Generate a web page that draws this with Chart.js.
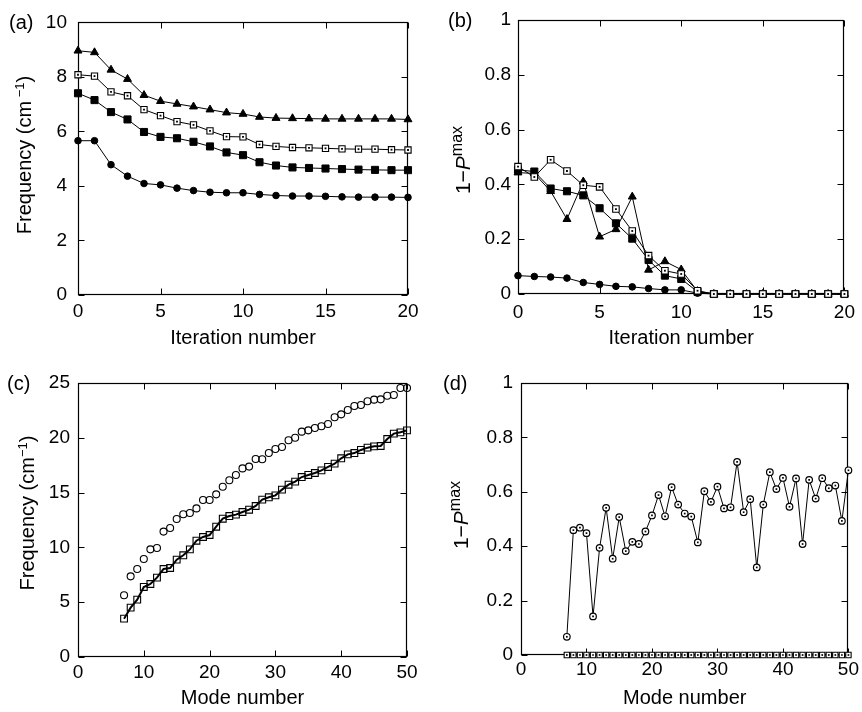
<!DOCTYPE html>
<html><head><meta charset="utf-8">
<script src="https://cdn.jsdelivr.net/npm/chart.js@4"></script>
<style>
body{margin:0;background:#fff;width:862px;height:712px;position:relative;overflow:hidden;font-family:"Liberation Sans",Arial,Helvetica,sans-serif;color:#000;}
canvas{position:absolute;}
.pl{position:absolute;font-size:20px;line-height:1;white-space:nowrap;}
.yt{position:absolute;font-size:20px;line-height:1;white-space:nowrap;transform:translate(-50%,-50%) rotate(-90deg);}
.yt sup{font-size:13px;vertical-align:0.55em;line-height:0;}
.yt.p{font-size:21px;}
.yt.p sup{font-size:16px;vertical-align:0.5em;}
</style></head><body>
<canvas id="ca" width="431" height="350" style="left:0;top:0;width:431px;height:350px"></canvas>
<canvas id="cb" width="431" height="350" style="left:431px;top:0;width:431px;height:350px"></canvas>
<canvas id="cc" width="431" height="362" style="left:0;top:350px;width:431px;height:362px"></canvas>
<canvas id="cd" width="431" height="362" style="left:431px;top:350px;width:431px;height:362px"></canvas>
<div class="pl" style="left:9px;top:12px">(a)</div>
<div class="pl" style="left:448px;top:10px">(b)</div>
<div class="pl" style="left:7px;top:373px">(c)</div>
<div class="pl" style="left:443px;top:373px">(d)</div>
<div class="yt" style="left:24px;top:155px">Frequency (cm<sup> −1</sup>)</div>
<div class="yt p" style="left:462px;top:160px">1−<i>P</i><sup>max</sup></div>
<div class="yt" style="left:27px;top:513px">Frequency (cm<sup>−1</sup>)</div>
<div class="yt p" style="left:460px;top:515px">1−<i>P</i><sup>max</sup></div>
<script>
// ---------- data ----------
const iterations = [0,1,2,3,4,5,6,7,8,9,10,11,12,13,14,15,16,17,18,19,20];
const aTriangle = [8.96,8.90,8.26,7.92,7.33,7.11,7.01,6.91,6.80,6.69,6.64,6.53,6.49,6.48,6.47,6.46,6.46,6.46,6.46,6.46,6.44];
const aOpenSquare = [8.08,8.03,7.45,7.31,6.80,6.58,6.36,6.24,6.02,5.81,5.80,5.52,5.45,5.41,5.40,5.38,5.36,5.35,5.35,5.33,5.32];
const aFilledSquare = [7.40,7.15,6.71,6.44,5.98,5.80,5.75,5.62,5.45,5.23,5.13,4.87,4.75,4.68,4.66,4.64,4.62,4.60,4.59,4.58,4.58];
const aCircle = [5.66,5.66,4.78,4.36,4.09,4.04,3.92,3.83,3.77,3.75,3.75,3.69,3.65,3.63,3.63,3.62,3.60,3.59,3.59,3.59,3.58];

const bTriangle = [0.443,0.440,0.375,0.273,0.410,0.209,0.236,0.355,0.088,0.119,0.089,0.010,0,0,0,0,0,0,0,0,0];
const bOpenSquare = [0.465,0.427,0.490,0.449,0.397,0.391,0.310,0.230,0.140,0.085,0.073,0.012,0,0,0,0,0,0,0,0,0];
const bFilledSquare = [0.453,0.447,0.385,0.375,0.360,0.313,0.258,0.202,0.124,0.067,0.055,0.008,0,0,0,0,0,0,0,0,0];
const bCircle = [0.067,0.064,0.062,0.058,0.042,0.035,0.028,0.026,0.020,0.015,0.015,0.003,0,0,0,0,0,0,0,0,0];

const modes = [7,8,9,10,11,12,13,14,15,16,17,18,19,20,21,22,23,24,25,26,27,28,29,30,31,32,33,34,35,36,37,38,39,40,41,42,43,44,45,46,47,48,49,50];
const cCircle = [5.63,7.36,8.03,8.94,9.82,9.95,11.44,11.77,12.59,13.02,13.14,13.56,14.32,14.32,14.84,15.54,16.12,16.61,17.21,17.37,18.07,18.04,18.61,18.98,19.16,19.77,20.01,20.56,20.68,20.89,21.05,21.26,21.87,22.14,22.54,22.90,22.99,23.33,23.48,23.51,23.84,23.91,24.54,24.54];
const cSquare = [3.50,4.50,5.23,6.39,6.66,7.24,8.03,8.12,8.88,9.28,9.82,10.61,10.95,11.13,11.89,12.62,12.86,12.99,13.23,13.44,13.78,14.36,14.57,14.75,15.27,15.72,16.00,16.42,16.61,16.79,17.03,17.34,17.64,18.13,18.49,18.61,18.89,19.10,19.22,19.25,19.89,20.38,20.50,20.68];
const dCircle = [0.067,0.459,0.468,0.448,0.142,0.394,0.541,0.354,0.507,0.382,0.416,0.408,0.454,0.513,0.588,0.510,0.617,0.553,0.520,0.509,0.414,0.602,0.563,0.619,0.539,0.543,0.710,0.525,0.573,0.322,0.553,0.672,0.610,0.651,0.545,0.649,0.408,0.644,0.575,0.650,0.613,0.623,0.493,0.679];
const dSquare = [0,0,0,0,0,0,0,0,0,0,0,0,0,0,0,0,0,0,0,0,0,0,0,0,0,0,0,0,0,0,0,0,0,0,0,0,0,0,0,0,0,0,0,0];

const xTicksIter = [0,5,10,15,20];
const xTicksMode = [0,10,20,30,40,50];
const yTicksFreqA = [0,2,4,6,8,10];
const yTicksFreqC = [0,5,10,15,20,25];
const yTicksP = [0,0.2,0.4,0.6,0.8,1];

// ---------- helpers ----------
const FONT = '"Liberation Sans", Arial, Helvetica, sans-serif';
Chart.defaults.font.family = FONT;
Chart.defaults.color = '#000';

function pts(xs, ys){ return xs.map((x,i)=>({x:x, y:ys[i]})); }
function fmt(v){ return String(Number(Number(v).toFixed(2))); }

const framePlugin = {
  id:'frame',
  beforeDatasetsDraw(chart){
    const {ctx, chartArea:a, scales} = chart;
    const x = scales.x, y = scales.y;
    ctx.save();
    ctx.strokeStyle='#000'; ctx.lineWidth=1.2;
    const L=Math.round(a.left)+0.5, R=Math.round(a.right)-0.5, T=Math.round(a.top)+0.5, B=Math.round(a.bottom)-0.5;
    ctx.strokeRect(L,T,R-L,B-T);
    const tl=6;
    ctx.lineWidth=1;
    ctx.beginPath();
    x.ticks.forEach(t=>{const px=Math.round(x.getPixelForValue(t.value))+0.5; ctx.moveTo(px,B); ctx.lineTo(px,B-tl); ctx.moveTo(px,T); ctx.lineTo(px,T+tl);});
    y.ticks.forEach(t=>{const py=Math.round(y.getPixelForValue(t.value))+0.5; ctx.moveTo(L,py); ctx.lineTo(L+tl,py); ctx.moveTo(R,py); ctx.lineTo(R-tl,py);});
    ctx.stroke();
    ctx.restore();
  }
};

function makeChart(id, datasets, cfg){
  return new Chart(document.getElementById(id), {
    type:'line',
    data:{datasets: datasets},
    plugins:[framePlugin],
    options:{
      responsive:false, animation:false,
      layout:{autoPadding:false, padding:{left:0, top:cfg.top, right:cfg.right, bottom:0}},
      plugins:{legend:{display:false}, tooltip:{enabled:false}},
      elements:{line:{tension:0, borderColor:'#000', borderWidth:1}, point:{borderColor:'#000', borderWidth:1}},
      scales:{
        x:{type:'linear', min:cfg.xTicks[0], max:cfg.xTicks[cfg.xTicks.length-1],
           afterBuildTicks(s){ s.ticks = cfg.xTicks.map(v=>({value:v})); },
           ticks:{padding:cfg.xpad, color:'#000', font:{size:19, family:FONT}, maxRotation:0, autoSkip:false, callback:fmt},
           grid:{display:false, drawTicks:false}, border:{display:false},
           title:{display:true, text:cfg.xtitle, color:'#000', font:{size:20, family:FONT}, padding:{top:0, bottom:cfg.tpad}},
           afterFit(s){ s.height = cfg.xh; }},
        y:{type:'linear', min:cfg.yTicks[0], max:cfg.yTicks[cfg.yTicks.length-1],
           afterBuildTicks(s){ s.ticks = cfg.yTicks.map(v=>({value:v})); },
           ticks:{padding:cfg.ypad, color:'#000', font:{size:19, family:FONT}, autoSkip:false, callback:fmt},
           grid:{display:false, drawTicks:false}, border:{display:false},
           afterFit(s){ s.width = cfg.yw; }}
      }
    }
  });
}

function ds(data, style, radius, fill, line, lw, bw){
  return {data:data, pointStyle:style, pointRadius:radius, pointHoverRadius:radius,
          pointBackgroundColor:fill, pointBorderColor:'#000', pointBorderWidth:(bw===undefined?1:bw),
          borderColor:'#000', borderWidth:lw||1, showLine:line, fill:false, clip:false};
}
// small centre dot drawn over an open marker (same data, no line)
function dot(data, r){ return ds(data,'rect',r||1.3,'#000',false,1,0); }

// (a)
makeChart('ca', [
  ds(pts(iterations,aTriangle),'triangle',4.6,'#000',true),
  dot(pts(iterations,aOpenSquare)),
  ds(pts(iterations,aOpenSquare),'rect',4.4,'#fff',true,1,1.1),
  ds(pts(iterations,aFilledSquare),'rect',5,'#000',true),
  ds(pts(iterations,aCircle),'circle',3.3,'#000',true)
], {top:21, right:23, yw:78, xh:55, xpad:5, ypad:11, tpad:0, xtitle:'Iteration number', xTicks:xTicksIter, yTicks:yTicksFreqA});

// (b)
makeChart('cb', [
  dot(pts(iterations,bOpenSquare)),
  ds(pts(iterations,bOpenSquare),'rect',4.6,'#fff',true,1,1.1),
  ds(pts(iterations,bTriangle),'triangle',4.6,'#000',true),
  ds(pts(iterations,bFilledSquare),'rect',5,'#000',true),
  ds(pts(iterations,bCircle),'circle',3.3,'#000',true)
], {top:20, right:14, yw:87, xh:56, xpad:7, ypad:7, tpad:0, xtitle:'Iteration number', xTicks:xTicksIter, yTicks:yTicksP});

// (c)
makeChart('cc', [
  ds(pts(modes,cCircle),'circle',3.5,'rgba(0,0,0,0)',false,1,1.1),
  ds(pts(modes,cSquare),'rect',4.8,'rgba(0,0,0,0)',true,2,1.1)
], {top:33, right:24, yw:78, xh:55, xpad:4, ypad:8, tpad:2, xtitle:'Mode number', xTicks:xTicksMode, yTicks:yTicksFreqC});

// (d)
makeChart('cd', [
  dot(pts(modes,dCircle),1.2),
  ds(pts(modes,dCircle),'circle',3.3,'#fff',true,1,1.2),
  dot(pts(modes,dSquare),1.2),
  ds(pts(modes,dSquare),'rect',3.8,'#fff',true,1,1.1)
], {top:33, right:11, yw:90, xh:57, xpad:3, ypad:8, tpad:2, xtitle:'Mode number', xTicks:xTicksMode, yTicks:yTicksP});
</script>
</body></html>
